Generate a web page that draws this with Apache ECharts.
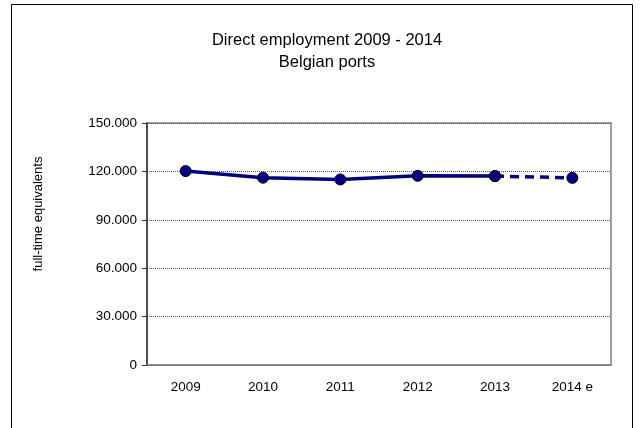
<!DOCTYPE html>
<html><head><meta charset="utf-8">
<script src="https://cdn.jsdelivr.net/npm/echarts@6/dist/echarts.min.js"></script>
<style>html,body{margin:0;padding:0;background:#fff}#c{width:643px;height:428px}</style>
</head><body><div id="c"></div>
<script>
var categories = ['2009','2010','2011','2012','2013','2014 e'];
var actualValues = [120200, 116100, 115000, 117300, 117100, null];
var estimateValues = [null, null, null, null, 117100, 116000];
var yTicks = [0, 30000, 60000, 90000, 120000, 150000];

function fmt(v){ return v === 0 ? '0' : String(v).replace(/\B(?=(\d{3})+(?!\d))/g, '.'); }
function toSeries(a){ return a.map(function(v){ return v === null ? '-' : v; }); }

var chart = echarts.init(document.getElementById('c'));
var font = 'Liberation Sans, Arial, sans-serif';
chart.setOption({
  animation: false,
  backgroundColor: '#fff',
  title: {
    text: 'Direct employment 2009 - 2014\nBelgian ports',
    left: 322, top: 24, textAlign: 'center',
    textStyle: { fontFamily: font, fontSize: 16.5, fontWeight: 'normal', color: '#000', lineHeight: 22 }
  },
  graphic: [{
    type: 'rect', shape: { x: 11.5, y: 4.5, width: 621, height: 440 },
    style: { fill: 'none', stroke: '#000', lineWidth: 1 }, silent: true
  }, {
    type: 'text', x: 38, y: 214, rotation: Math.PI/2,
    style: { text: 'full-time equivalents', font: '13px ' + font, fill: '#000', align: 'center', verticalAlign: 'middle' }
  }],
  grid: { left: 147, top: 123, right: 32, bottom: 63, show: true, borderColor: '#808080', borderWidth: 1.5, backgroundColor: '#fff' },
  xAxis: {
    type: 'category', data: categories, boundaryGap: true,
    axisLine: { lineStyle: { color: '#808080', width: 1.5 } },
    axisTick: { show: false },
    axisLabel: { color: '#000', fontFamily: font, fontSize: 13.5, margin: 15 }
  },
  yAxis: {
    type: 'value', min: 0, max: 150000, interval: 30000,
    axisLine: { show: true, lineStyle: { color: '#333', width: 1.5 } },
    axisTick: { show: true, length: 5, lineStyle: { color: '#333' } },
    axisLabel: { color: '#000', fontFamily: font, fontSize: 13.5, margin: 10, formatter: fmt },
    splitLine: { lineStyle: { color: '#555', type: [1, 1], width: 1 } }
  },
  series: [{
    type: 'line', data: toSeries(actualValues),
    lineStyle: { color: '#000080', width: 3.5 },
    symbol: 'circle', symbolSize: 11,
    itemStyle: { color: '#000080', borderColor: '#000', borderWidth: 1 },
    z: 3
  }, {
    type: 'line', data: toSeries(estimateValues),
    lineStyle: { color: '#000080', width: 3.5, type: [9, 6] },
    symbol: 'circle', symbolSize: 11,
    itemStyle: { color: '#000080', borderColor: '#000', borderWidth: 1 },
    z: 3
  }]
});
</script></body></html>
